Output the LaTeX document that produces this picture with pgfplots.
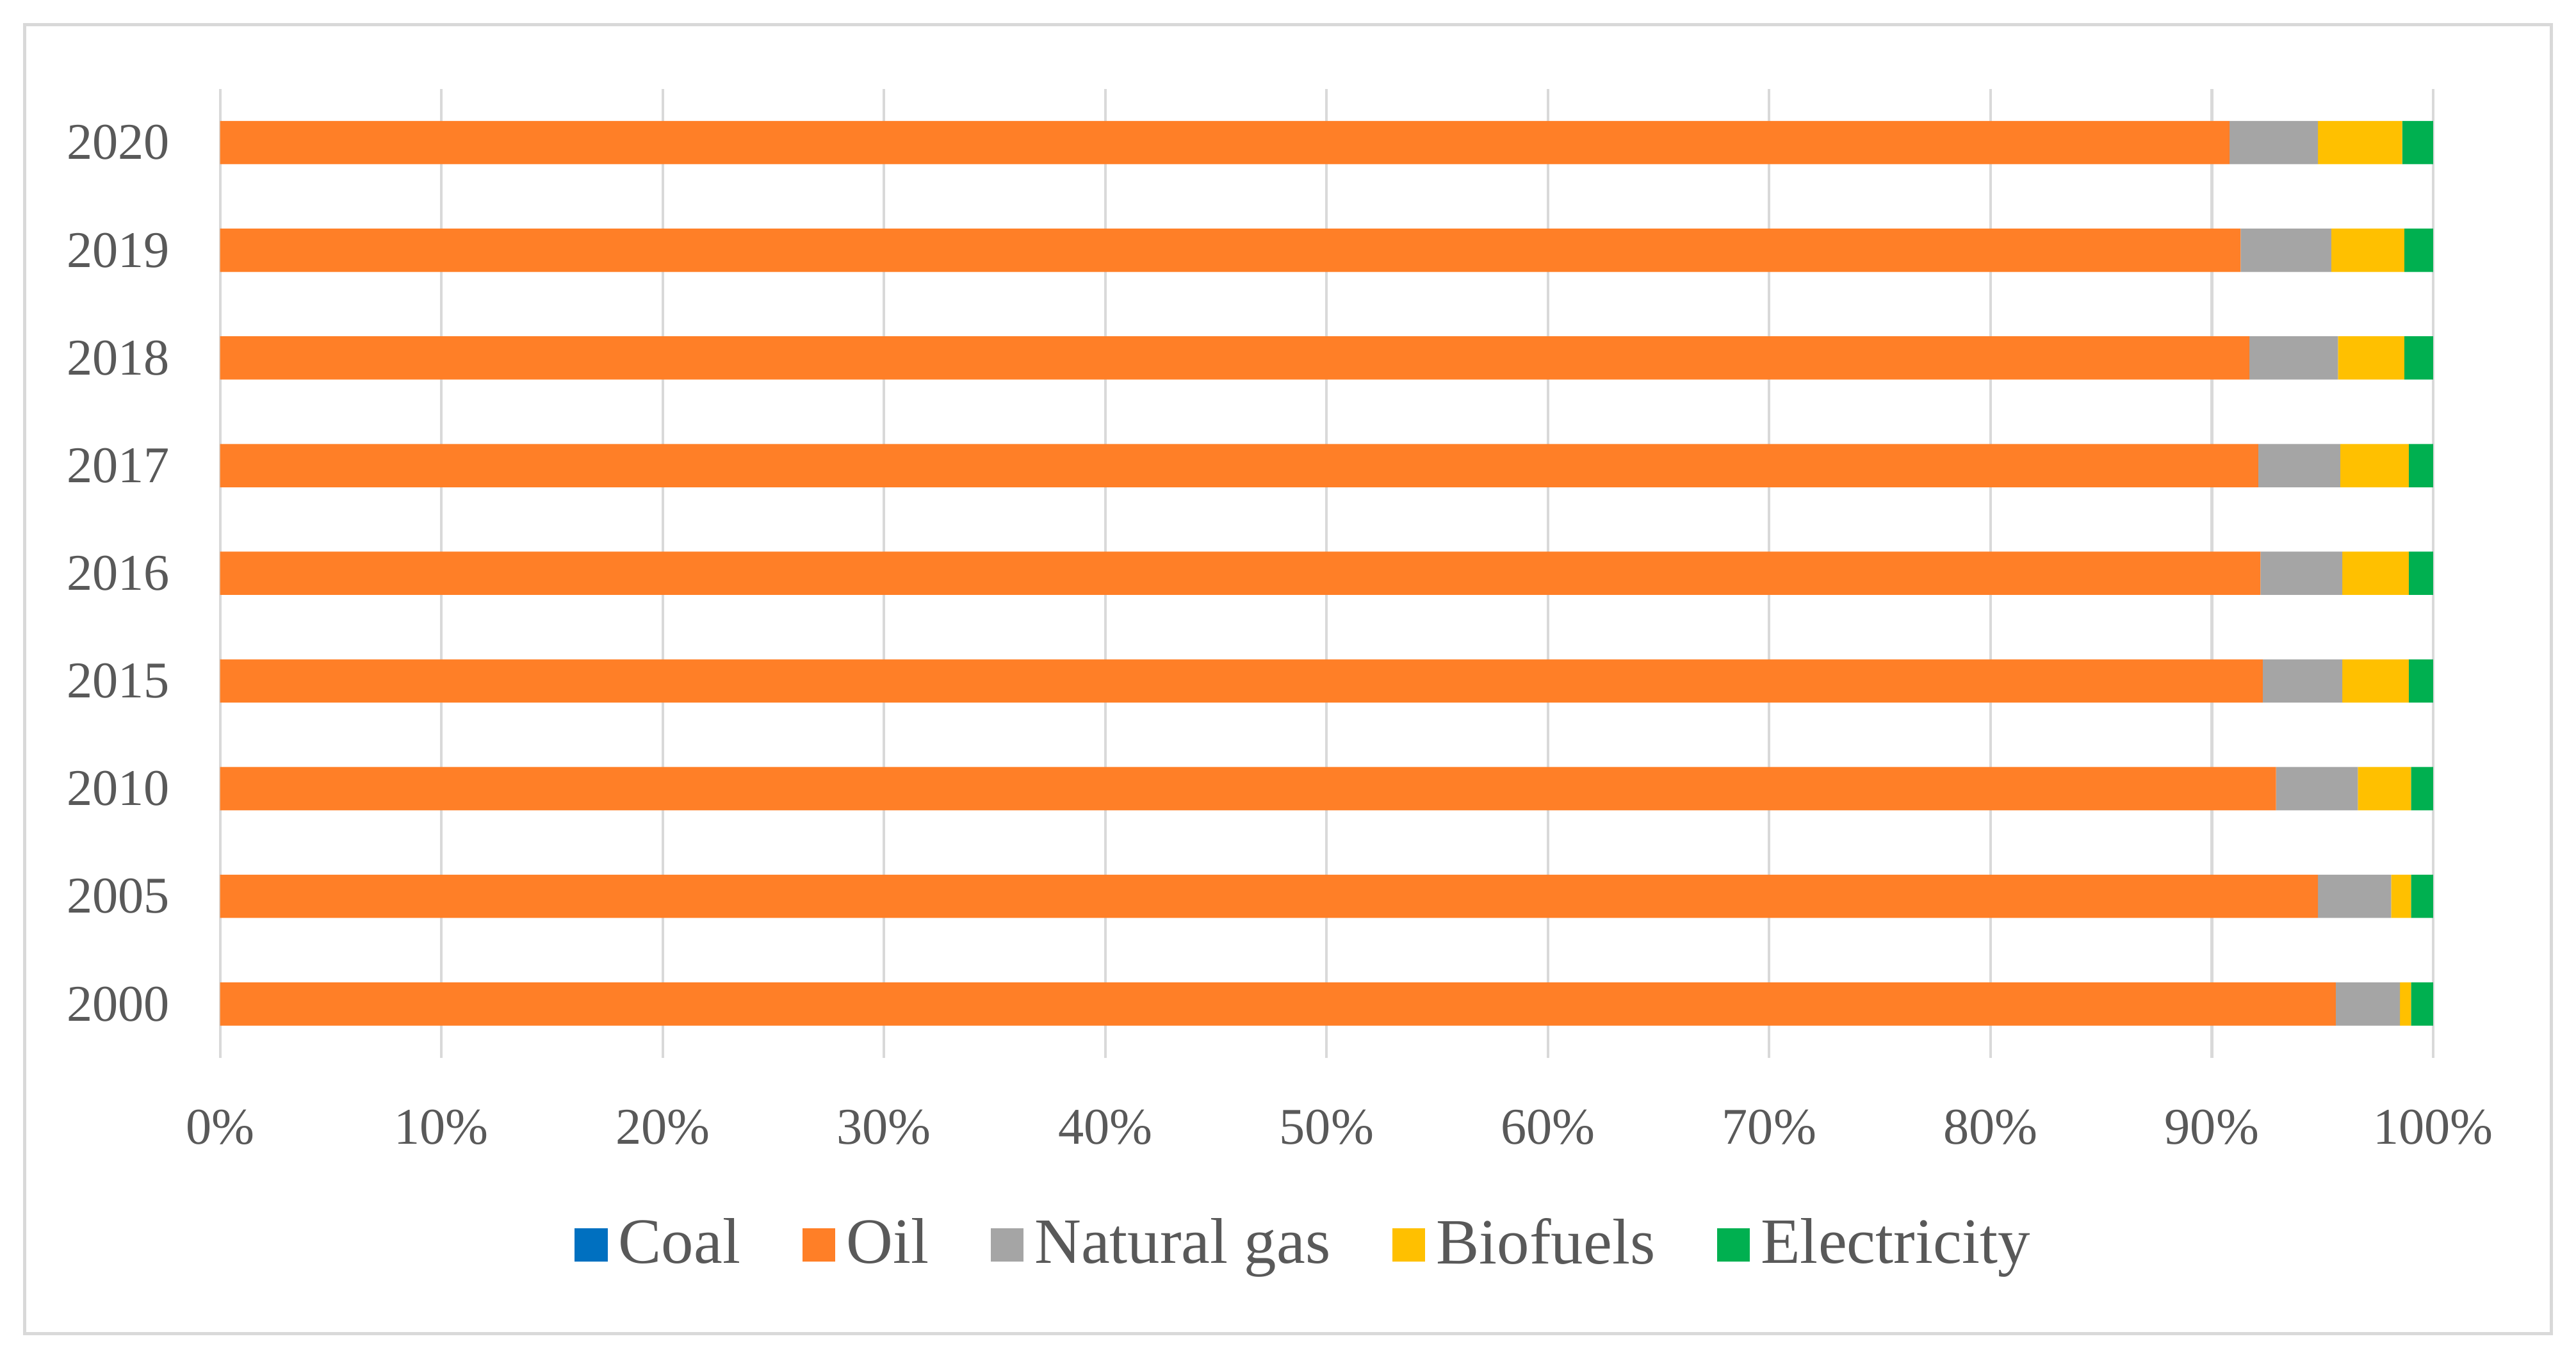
\documentclass[border=0pt]{standalone}
\usepackage{fontspec}
\setmainfont{Liberation Serif}
\usepackage{pgfplots}
\pgfplotsset{compat=1.18}
\definecolor{coal}{HTML}{0070C0}
\definecolor{oil}{HTML}{FF7F27}
\definecolor{gas}{HTML}{A5A5A5}
\definecolor{bio}{HTML}{FFC000}
\definecolor{elec}{HTML}{00B050}
\definecolor{txt}{HTML}{595959}
\definecolor{gridc}{HTML}{D9D9D9}

\begin{document}
\begin{tikzpicture}
\path[use as bounding box] (0,0) rectangle (470.4pt,247.8pt);
\draw[gridc, line width=0.6pt] (4.5pt,4.2pt) rectangle (465.9pt,243.3pt);
\begin{axis}[
  at={(40.2pt,54.6pt)}, anchor=south west,
  scale only axis, width=404.1pt, height=177pt,
  xbar stacked, bar width=7.9pt,
  xmin=0, xmax=100, ymin=-0.5, ymax=8.5,
  xtick={0,10,...,100},
  xticklabels={0\%,10\%,20\%,30\%,40\%,50\%,60\%,70\%,80\%,90\%,100\%},
  ytick={0,...,8},
  yticklabels={2000,2005,2010,2015,2016,2017,2018,2019,2020},
  axis line style={draw=none}, tick style={draw=none},
  xmajorgrids, major grid style={gridc, line width=0.5pt},
  ticklabel style={font=\fontsize{9.4}{11}\selectfont, text=txt},
  xticklabel style={yshift=-6pt},
  yticklabel style={xshift=-5.7pt},
  legend columns=-1,
  legend style={at={(0.4915,-0.193)}, anchor=center, draw=none, fill=none,
    font=\fontsize{11.8}{14}\selectfont, text=txt,
    /tikz/every even column/.append style={column sep=9.3pt}},
  legend image code/.code={\fill[#1] (0pt,-3pt) rectangle (6pt,3pt);},
]
% coal
\addplot[fill=coal, draw=none] coordinates {(0,0) (0,1) (0,2) (0,3) (0,4) (0,5) (0,6) (0,7) (0,8)};
% oil
\addplot[fill=oil, draw=none] coordinates {(95.6,0) (94.8,1) (92.9,2) (92.3,3) (92.2,4) (92.1,5) (91.7,6) (91.3,7) (90.8,8)};
% natural gas
\addplot[fill=gas, draw=none] coordinates {(2.9,0) (3.3,1) (3.7,2) (3.6,3) (3.7,4) (3.7,5) (4.0,6) (4.1,7) (4.0,8)};
% biofuels
\addplot[fill=bio, draw=none] coordinates {(0.5,0) (0.9,1) (2.4,2) (3.0,3) (3.0,4) (3.1,5) (3.0,6) (3.3,7) (3.8,8)};
% electricity
\addplot[fill=elec, draw=none] coordinates {(1.0,0) (1.0,1) (1.0,2) (1.1,3) (1.1,4) (1.1,5) (1.3,6) (1.3,7) (1.4,8)};
\legend{Coal, Oil, Natural gas, Biofuels, Electricity}
\end{axis}
\end{tikzpicture}
\end{document}
